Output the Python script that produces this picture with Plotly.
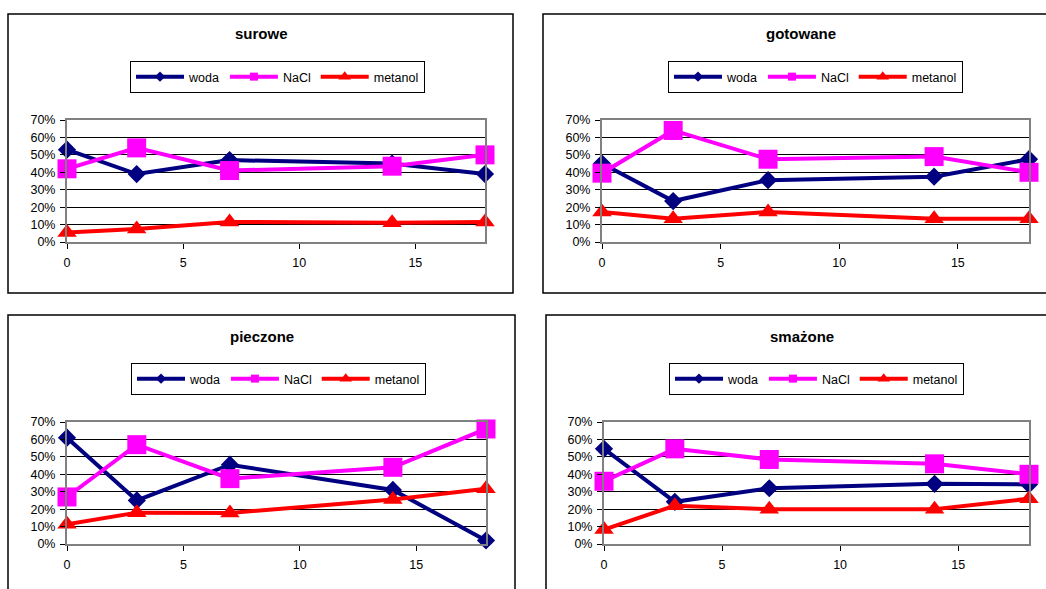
import plotly.graph_objects as go

W, H = 1046, 589

days = [0, 3, 7, 14, 18]
series_names = ["woda", "NaCl", "metanol"]

surowe_woda = [0.53, 0.39, 0.47, 0.45, 0.39]
surowe_nacl = [0.42, 0.54, 0.41, 0.435, 0.50]
surowe_metanol = [0.055, 0.075, 0.115, 0.11, 0.115]

gotowane_woda = [0.45, 0.235, 0.355, 0.375, 0.475]
gotowane_nacl = [0.395, 0.64, 0.475, 0.49, 0.40]
gotowane_metanol = [0.172, 0.134, 0.172, 0.134, 0.134]

pieczone_woda = [0.61, 0.25, 0.455, 0.31, 0.02]
pieczone_nacl = [0.27, 0.57, 0.375, 0.44, 0.66]
pieczone_metanol = [0.113, 0.18, 0.178, 0.255, 0.317]

smazone_woda = [0.546, 0.242, 0.32, 0.345, 0.342]
smazone_nacl = [0.36, 0.546, 0.485, 0.46, 0.40]
smazone_metanol = [0.083, 0.22, 0.20, 0.20, 0.26]

panel_titles = ["surowe", "gotowane", "pieczone", "smażone"]
y_ticks = [0, 0.1, 0.2, 0.3, 0.4, 0.5, 0.6, 0.7]
x_ticks = [0, 5, 10, 15]

panels_data = [
    [surowe_woda, surowe_nacl, surowe_metanol],
    [gotowane_woda, gotowane_nacl, gotowane_metanol],
    [pieczone_woda, pieczone_nacl, pieczone_metanol],
    [smazone_woda, smazone_nacl, smazone_metanol],
]

colors = ["#000080", "#FF00FF", "#FF0000"]
symbols = ["diamond", "square", "triangle-up"]
msizes = [14, 19, 17]
leg_msizes = [8, 8, 11]

# layout geometry in pixels
plot_boxes = [  # x0, x1, ytop, ybottom
    (67, 485, 120, 242),
    (602, 1029, 120, 242),
    (67, 486, 422, 544),
    (604, 1029, 422, 544),
]
panel_boxes = [  # x0, x1, y0, y1
    (8, 513, 14, 293),
    (543, 1060, 14, 293),
    (8, 515, 315, 610),
    (546, 1060, 315, 610),
]
title_pos = [(261, 34), (801, 34), (262, 336), (802, 336)]
legend_pos = [(130, 61), (668, 61), (131, 363), (669, 363)]

FONT = "Arial, 'Liberation Sans', sans-serif"

def px(x):
    return x / W

def py(y):
    return 1 - y / H

fig = go.Figure()
layout = dict(
    width=W, height=H,
    margin=dict(l=0, r=0, t=0, b=0, pad=0, autoexpand=False),
    paper_bgcolor="white", plot_bgcolor="white",
    showlegend=True,
    font=dict(family=FONT, size=12, color="black"),
    shapes=[], annotations=[],
)

for i, (title, data) in enumerate(zip(panel_titles, panels_data)):
    n = "" if i == 0 else str(i + 1)
    xa, ya = "x" + n, "y" + n
    leg = "legend" + n
    for j in range(3):
        fig.add_trace(go.Scatter(
            x=days, y=data[j], mode="lines+markers", name=series_names[j],
            xaxis=xa, yaxis=ya, showlegend=False,
            line=dict(color=colors[j], width=4),
            marker=dict(symbol=symbols[j], size=msizes[j], color=colors[j]),
            cliponaxis=False,
        ))
    for j in range(3):
        fig.add_trace(go.Scatter(
            x=[None], y=[None], mode="lines+markers", name=series_names[j],
            xaxis=xa, yaxis=ya, showlegend=True, legend=leg,
            line=dict(color=colors[j], width=4),
            marker=dict(symbol=symbols[j], size=leg_msizes[j], color=colors[j]),
        ))
    x0, x1, yt, yb = plot_boxes[i]
    layout["xaxis" + n] = dict(
        domain=[px(x0), px(x1)], anchor=ya, range=[0, 18],
        tickvals=x_ticks, ticks="outside", ticklen=5, tickcolor="black",
        showgrid=False, zeroline=False, showline=True, mirror=True,
        linecolor="#808080", linewidth=2, automargin=False,
        tickfont=dict(size=12.5, family=FONT), ticklabelstandoff=3,
    )
    layout["yaxis" + n] = dict(
        domain=[py(yb), py(yt)], anchor=xa, range=[0, 0.7],
        tickvals=y_ticks, tickformat=".0%", ticks="outside", ticklen=5,
        tickcolor="black", showgrid=True, gridcolor="black", gridwidth=1,
        zeroline=False, showline=True, mirror=True,
        linecolor="#808080", linewidth=2, automargin=False,
        tickfont=dict(size=12.5, family=FONT), ticklabelstandoff=2,
    )
    lx, ly = legend_pos[i]
    layout[leg] = dict(
        x=px(lx), y=py(ly), xanchor="left", yanchor="top",
        orientation="h", bordercolor="black", borderwidth=1,
        bgcolor="white", itemwidth=48,
        font=dict(size=12.5, family=FONT), tracegroupgap=0,
        itemclick=False, itemdoubleclick=False,
    )
    bx0, bx1, by0, by1 = panel_boxes[i]
    layout["shapes"].append(dict(
        type="rect", xref="paper", yref="paper",
        x0=px(bx0), x1=px(bx1), y0=py(by1), y1=py(by0),
        line=dict(color="black", width=1.5), layer="below",
    ))
    tx, ty = title_pos[i]
    layout["annotations"].append(dict(
        text="<b>" + title + "</b>", xref="paper", yref="paper",
        x=px(tx), y=py(ty), xanchor="center", yanchor="middle",
        showarrow=False, font=dict(size=15, family=FONT, color="black"),
    ))

fig.update_layout(**layout)
fig.write_html("out.html")
